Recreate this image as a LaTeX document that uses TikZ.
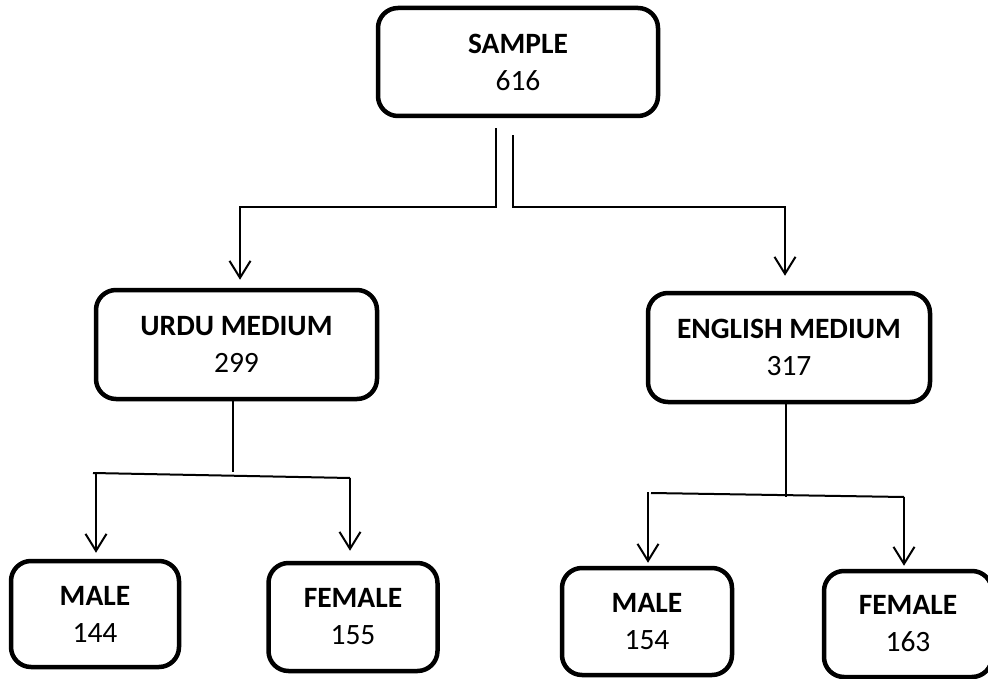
\documentclass[tikz,border=0pt]{standalone}
\usepackage{fontspec}
\setmainfont{Carlito}
\usetikzlibrary{arrows.meta}
\begin{document}
\begin{tikzpicture}[x=1pt,y=-1pt,
  box/.style={draw=black, line width=4.5pt, rounded corners=20pt, align=center,
    inner sep=0pt, font=\fontsize{29.5}{37}\selectfont},
  conn/.style={draw=black, line width=2pt},
  arr/.style={conn, -{Straight Barb[length=17pt,width=21pt]}}]
\useasboundingbox (0,0) rectangle (988,679);
\clip (0,0) rectangle (988,679);

\node[box, minimum width=280pt, minimum height=108pt] (sample) at (518,62) {\textbf{SAMPLE}\\616};
\node[box, minimum width=281pt, minimum height=109pt] (urdu) at (236.5,344.5) {\textbf{URDU MEDIUM}\\299};
\node[box, minimum width=282pt, minimum height=109pt] (english) at (789,347.5) {\textbf{ENGLISH MEDIUM}\\317};
\node[box, minimum width=168pt, minimum height=106pt] (male1) at (95,614) {\textbf{MALE}\\144};
\node[box, minimum width=169pt, minimum height=108pt] (female1) at (353,617) {\textbf{FEMALE}\\155};
\node[box, minimum width=170pt, minimum height=107pt] (male2) at (647,621.5) {\textbf{MALE}\\154};
\node[box, minimum width=168pt, minimum height=106pt] (female2) at (908,624) {\textbf{FEMALE}\\163};

% sample to mediums
\draw[arr] ([xshift=-22pt,yshift=-10pt]sample.south) -- ++(0,79) -| ([xshift=3.5pt,yshift=8pt]urdu.north);
\draw[arr] ([xshift=-5pt,yshift=-17pt]sample.south) -- ++(0,72) -| ([xshift=-4pt,yshift=15pt]english.north);

% urdu to children
\draw[conn] ([xshift=-3.5pt]urdu.south) -- ++(0,71);
\coordinate (u1) at (96,473);
\coordinate (u2) at (350,478);
\draw[conn] (93,473) -- (u2);
\draw[arr] (u1) -- ([xshift=1pt,yshift=6pt]male1.north);
\draw[arr] (u2) -- ([xshift=-3pt,yshift=10pt]female1.north);

% english to children
\draw[conn] ([xshift=-3pt]english.south) -- ++(0,93);
\coordinate (e1) at (648,492);
\coordinate (e2) at (904,497);
\draw[conn] (651,493) -- (e2);
\draw[arr] (e1) -- ([xshift=1pt,yshift=3pt]male2.north);
\draw[arr] (e2) -- ([xshift=-4pt,yshift=3pt]female2.north);
\end{tikzpicture}
\end{document}
